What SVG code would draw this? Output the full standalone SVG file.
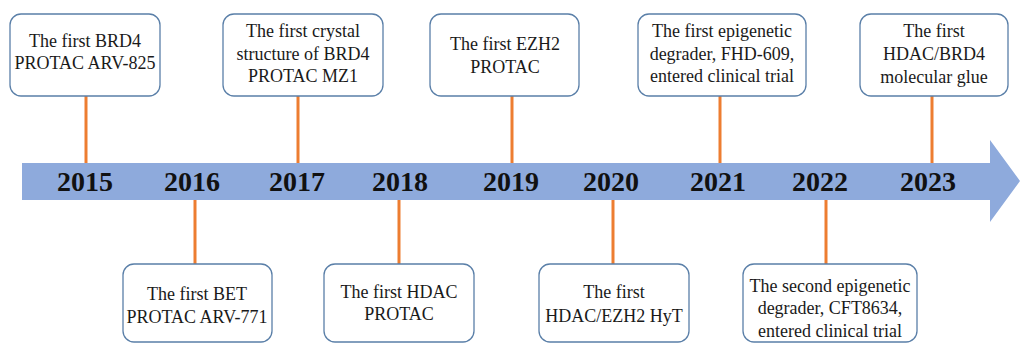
<svg xmlns="http://www.w3.org/2000/svg" width="1020" height="344" viewBox="0 0 1020 344">
<style>
.box{fill:#fff;stroke:#5a7fa8;stroke-width:1.3}
.t{font-size:18px;fill:#1a1a1a;text-anchor:middle}
.yr{font-size:28px;font-weight:bold;fill:#111;text-anchor:middle}
.c{stroke:#ed7d31;stroke-width:3;fill:none}
</style>
<rect width="1020" height="344" fill="#fff"/>
<g font-family="'Liberation Serif', serif">
<g id="timeline">
<polygon points="22,163 990,163 990,140 1020,181 990,222 990,200 22,200" fill="#8eaadc"/>
<text class="yr" x="85" y="191">2015</text>
<text class="yr" x="192" y="191">2016</text>
<text class="yr" x="297" y="191">2017</text>
<text class="yr" x="400" y="191">2018</text>
<text class="yr" x="511" y="191">2019</text>
<text class="yr" x="611" y="191">2020</text>
<text class="yr" x="718" y="191">2021</text>
<text class="yr" x="820" y="191">2022</text>
<text class="yr" x="928" y="191">2023</text>
</g>
<g id="connectors">
<line class="c" x1="86" y1="96" x2="86" y2="163"/>
<line class="c" x1="298" y1="96" x2="298" y2="163"/>
<line class="c" x1="512" y1="96" x2="512" y2="163"/>
<line class="c" x1="720" y1="96" x2="720" y2="163"/>
<line class="c" x1="932" y1="96" x2="932" y2="163"/>
<line class="c" x1="195" y1="200" x2="195" y2="264"/>
<line class="c" x1="399" y1="200" x2="399" y2="264"/>
<line class="c" x1="613" y1="200" x2="613" y2="264"/>
<line class="c" x1="826" y1="200" x2="826" y2="264"/>
</g>
<g id="n2015">
<rect class="box" x="10" y="14" width="150" height="82" rx="11"/>
<text class="t" x="85" y="47">The first BRD4</text>
<text class="t" x="85" y="69">PROTAC ARV-825</text>
</g>
<g id="n2017">
<rect class="box" x="223" y="14" width="160" height="82" rx="11"/>
<text class="t" x="303" y="37">The first crystal</text>
<text class="t" x="303" y="60">structure of BRD4</text>
<text class="t" x="303" y="82">PROTAC MZ1</text>
</g>
<g id="n2019">
<rect class="box" x="430" y="14" width="149" height="82" rx="11"/>
<text class="t" x="505" y="50">The first EZH2</text>
<text class="t" x="505" y="73">PROTAC</text>
</g>
<g id="n2021">
<rect class="box" x="638" y="14" width="168" height="82" rx="11"/>
<text class="t" x="722" y="37">The first epigenetic</text>
<text class="t" x="722" y="60">degrader, FHD-609,</text>
<text class="t" x="722" y="82">entered clinical trial</text>
</g>
<g id="n2023">
<rect class="box" x="860" y="14" width="148" height="82" rx="11"/>
<text class="t" x="934" y="37">The first</text>
<text class="t" x="934" y="60">HDAC/BRD4</text>
<text class="t" x="934" y="83">molecular glue</text>
</g>
<g id="n2016">
<rect class="box" x="123" y="264" width="149" height="78" rx="11"/>
<text class="t" x="197" y="300">The first BET</text>
<text class="t" x="197" y="323">PROTAC ARV-771</text>
</g>
<g id="n2018">
<rect class="box" x="324" y="264" width="150" height="78" rx="11"/>
<text class="t" x="399" y="298">The first HDAC</text>
<text class="t" x="399" y="320">PROTAC</text>
</g>
<g id="n2020">
<rect class="box" x="539" y="264" width="150" height="78" rx="11"/>
<text class="t" x="614" y="298">The first</text>
<text class="t" x="614" y="322">HDAC/EZH2 HyT</text>
</g>
<g id="n2022">
<rect class="box" x="743" y="264" width="174" height="78" rx="11"/>
<text class="t" x="830" y="292">The second epigenetic</text>
<text class="t" x="830" y="314">degrader, CFT8634,</text>
<text class="t" x="830" y="337">entered clinical trial</text>
</g>
</g>
</svg>
